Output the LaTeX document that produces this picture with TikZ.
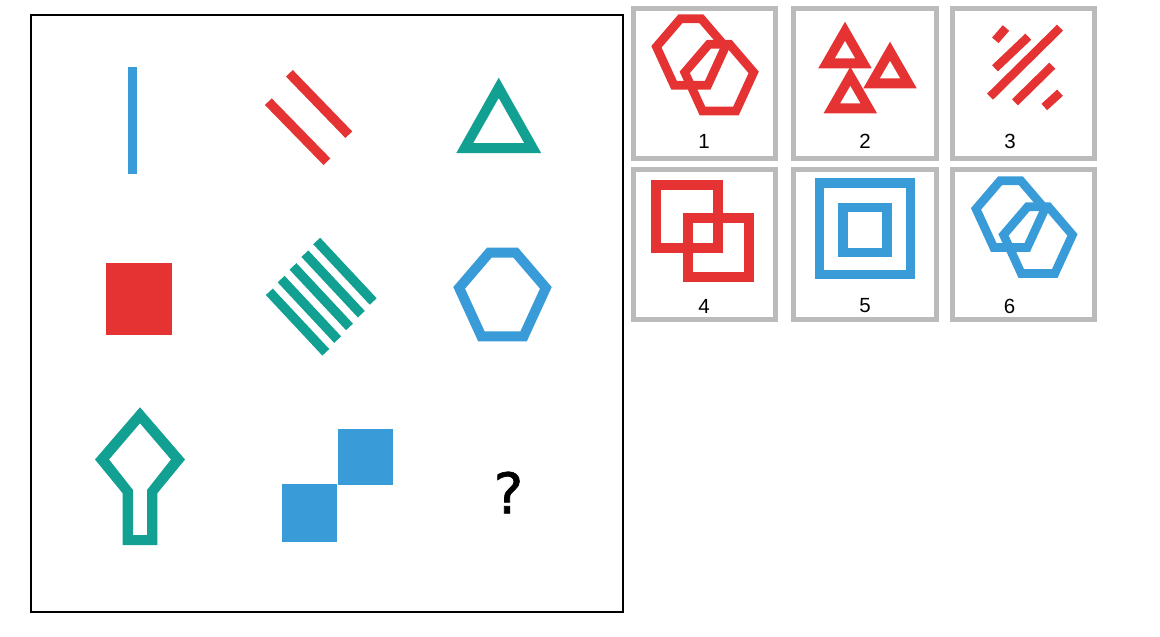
\documentclass[tikz,border=0pt]{standalone}
\usepackage{fontspec}
\setmainfont{Liberation Sans}
\newfontfamily\qfont[FakeBold=1.2]{DejaVu Sans}
\definecolor{blueC}{RGB}{57,156,217}
\definecolor{redC}{RGB}{229,50,51}
\definecolor{tealC}{RGB}{17,160,146}
\definecolor{boxG}{RGB}{187,187,187}
\begin{document}
\begin{tikzpicture}[x=1pt,y=-1pt,
  ring/.style={even odd rule},
  optbox/.style={draw=boxG, line width=5pt},
  lbl/.style={font=\fontsize{20.5}{24}\selectfont, inner sep=0pt},
  hexpic/.pic={\draw[line join=miter, #1]
     (-13.05,-41.8) -- (13.05,-41.8) -- (43.35,-6.45) -- (21.1,42.05) -- (-21.1,42.05) -- (-43.35,-6.45) -- cycle;},
  tripic/.pic={\fill[#1, even odd rule]
     (0,0) -- (-26.7,46.6) -- (26.7,46.6) -- cycle
     (0,19) -- (-10.2,36.6) -- (10.2,36.6) -- cycle;}]
\useasboundingbox (0,0) rectangle (1160,637);
% main frame
\draw[line width=2pt] (31.3,15.3) rectangle (623.3,612);
% cell 1
\fill[blueC] (127.7,66.7) rectangle (137.3,174);
% cell 2
\draw[redC, line width=9.5pt] (289.4,73.3) -- (348.8,134.7);
\draw[redC, line width=9.5pt] (268.3,101.7) -- (326.9,161.7);
% cell 3
\fill[tealC, ring] (498.7,77.7) -- (456.3,153) -- (541.1,153) -- cycle
                   (498.7,98) -- (473.2,143) -- (524.2,143) -- cycle;
% cell 4
\fill[redC] (105.5,263.3) rectangle (171.8,335.3);
% cell 5
\foreach \i in {0,...,4}
  \draw[tealC, line width=9.5pt] ({316.7-11.85*\i},{241+12.7*\i}) -- ++(56.5,60.5);
% cell 6
\pic at (502.5,294.3) {hexpic={blueC, line width=10pt}};
% cell 7
\fill[tealC, ring] (140,407.3) -- (185,459.5) -- (157.3,493.3) -- (157.3,545) -- (122.7,545) -- (122.7,493.3) -- (95,459.5) -- cycle
                   (140,423.3) -- (171,459.5) -- (147,490) -- (147,535) -- (133,535) -- (133,490) -- (109,459.5) -- cycle;
% cell 8
\fill[blueC] (281.7,484) rectangle (336.7,541.7);
\fill[blueC] (338.3,429.3) rectangle (393.3,485);
% cell 9
\node[font=\qfont\fontsize{56}{60}\selectfont, inner sep=0pt] (q) at (508.5,492.5) {?};

% option boxes
\draw[optbox] (633,8) rectangle (775,158.5);
\draw[optbox] (793.8,8) rectangle (936.5,158.5);
\draw[optbox] (952.2,8) rectangle (1094.5,158.5);
\draw[optbox] (633,169.5) rectangle (775,319.5);
\draw[optbox] (793.8,169.5) rectangle (936.5,319.5);
\draw[optbox] (952.2,169.5) rectangle (1094.5,319.5);

% option 1
\pic[scale=0.795] at (690.9,51.9) {hexpic={redC, line width=8.7pt}};
\pic[scale=0.795] at (719.2,77.5) {hexpic={redC, line width=8.7pt}};
% option 2
\pic at (845,21.7) {tripic=redC};
\pic at (890,41.7) {tripic=redC};
\pic at (850.3,66.7) {tripic=redC};
% option 3
\draw[redC, line width=8.5pt] (995.3,40.3) -- (1006,28);
\draw[redC, line width=8.5pt] (995,68.3) -- (1028.3,36.7);
\draw[redC, line width=8.5pt] (990,96.7) -- (1060,27.7);
\draw[redC, line width=8.5pt] (1015,102.3) -- (1052.3,65.7);
\draw[redC, line width=8.5pt] (1044.3,107) -- (1060,92.7);
% option 4
\draw[redC, line width=10pt] (655.7,185) rectangle (717.7,248.3);
\draw[redC, line width=10pt] (688.3,217.7) rectangle (749,277.3);
% option 5
\draw[blueC, line width=9.3pt] (819.3,183) rectangle (910.8,274.5);
\draw[blueC, line width=9.3pt] (843,207.8) rectangle (887,252.2);
% option 6
\pic[scale=0.795] at (1010.5,214) {hexpic={blueC, line width=8.7pt}};
\pic[scale=0.795] at (1038,240) {hexpic={blueC, line width=8.7pt}};

% labels
\node[lbl] (l1) at (704,141.5) {1};
\node[lbl] (l2) at (865,141.5) {2};
\node[lbl] (l3) at (1010,141.5) {3};
\node[lbl] (l4) at (704,306) {4};
\node[lbl] (l5) at (865,306) {5};
\node[lbl] (l6) at (1009.5,306) {6};
\end{tikzpicture}
\end{document}
